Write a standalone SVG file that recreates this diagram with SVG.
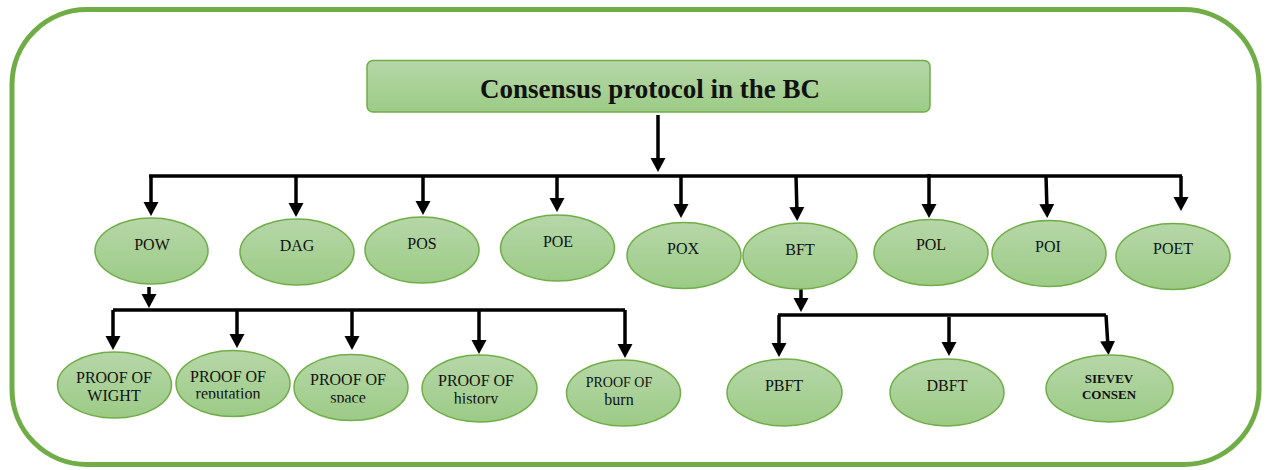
<svg xmlns="http://www.w3.org/2000/svg" width="1266" height="470" viewBox="0 0 1266 470">
<defs>
<linearGradient id="g" x1="0" y1="0" x2="0" y2="1">
<stop offset="0" stop-color="#b6d7a8"/>
<stop offset="1" stop-color="#9ccb86"/>
</linearGradient>
<marker id="ah" markerUnits="userSpaceOnUse" markerWidth="16" markerHeight="16" viewBox="0 0 16 16" refX="6" refY="8" orient="auto">
<path d="M0,0.5 L14,8 L0,15.5 z" fill="#000"/>
</marker>
<clipPath id="c1"><rect x="150" y="300" width="160" height="98.5"/></clipPath>
<clipPath id="c2"><rect x="280" y="300" width="140" height="102.5"/></clipPath>
<clipPath id="c3"><rect x="410" y="300" width="140" height="103.5"/></clipPath>
</defs>
<style>
.n{fill:url(#g);stroke:#70ad47;stroke-width:1.5}
.t{font-family:"Liberation Serif","Times New Roman",serif;font-size:16px;fill:#111;text-anchor:middle}
.b{font-weight:bold}
.c{stroke:#000;stroke-width:3.5;fill:none}
.a{stroke:#000;stroke-width:3.5;fill:none;marker-end:url(#ah)}
</style>
<rect x="12" y="9.5" width="1247" height="455" rx="75" ry="75" fill="#fff" stroke="#70ad47" stroke-width="5"/>

<g id="title">
<rect x="367" y="60.5" width="563" height="51.5" rx="6" class="n"/>
<text x="650" y="98" class="t b" style="font-size:27px">Consensus protocol in the BC</text>
</g>

<g id="connectors">
<line x1="658" y1="115" x2="658" y2="164" class="a"/>
<path d="M149,176 H1182" class="c"/>
<line x1="151" y1="176" x2="151" y2="208" class="a"/>
<line x1="296" y1="176" x2="296" y2="209" class="a"/>
<line x1="423" y1="176" x2="423" y2="207" class="a"/>
<line x1="557" y1="176" x2="557" y2="204" class="a"/>
<line x1="681" y1="176" x2="681" y2="210" class="a"/>
<line x1="796" y1="176" x2="797" y2="213" class="a"/>
<line x1="929" y1="174" x2="929" y2="210" class="a"/>
<line x1="1046" y1="176" x2="1047" y2="210" class="a"/>
<line x1="1181" y1="176" x2="1181" y2="203" class="a"/>

<line x1="149" y1="287" x2="149" y2="300" class="a"/>
<path d="M113,310 H625" class="c"/>
<line x1="113" y1="310" x2="113" y2="342" class="a"/>
<line x1="237" y1="310" x2="237" y2="340" class="a"/>
<line x1="352" y1="310" x2="352" y2="342" class="a"/>
<line x1="479" y1="310" x2="479" y2="346" class="a"/>
<line x1="625" y1="310" x2="625" y2="350" class="a"/>

<line x1="801" y1="289" x2="801" y2="304" class="a"/>
<path d="M778,315 H1106" class="c"/>
<line x1="779" y1="315" x2="779" y2="349" class="a"/>
<line x1="949" y1="317" x2="949" y2="348" class="a"/>
<line x1="1106" y1="315" x2="1108" y2="347" class="a"/>
</g>

<g id="pow"><ellipse cx="151.5" cy="251" rx="56.5" ry="33" class="n"/><text x="152" y="250" class="t">POW</text></g>
<g id="dag"><ellipse cx="297" cy="252" rx="57" ry="33" class="n"/><text x="297" y="251" class="t">DAG</text></g>
<g id="pos"><ellipse cx="422" cy="250" rx="57" ry="33" class="n"/><text x="422" y="249" class="t">POS</text></g>
<g id="poe"><ellipse cx="557.5" cy="248" rx="57" ry="33" class="n"/><text x="558" y="247" class="t">POE</text></g>
<g id="pox"><ellipse cx="684" cy="255.5" rx="57" ry="33" class="n"/><text x="683" y="254" class="t">POX</text></g>
<g id="bft"><ellipse cx="800" cy="256" rx="57" ry="33" class="n"/><text x="800" y="255" class="t">BFT</text></g>
<g id="pol"><ellipse cx="931" cy="252.5" rx="57" ry="33" class="n"/><text x="931" y="250" class="t">POL</text></g>
<g id="poi"><ellipse cx="1049" cy="253.5" rx="57" ry="33" class="n"/><text x="1048" y="252" class="t">POI</text></g>
<g id="poet"><ellipse cx="1173" cy="256.5" rx="57" ry="33" class="n"/><text x="1173" y="254" class="t">POET</text></g>

<g id="wight"><ellipse cx="114.5" cy="385" rx="57" ry="33" class="n"/><text x="114" y="383" class="t">PROOF OF</text><text x="114" y="401" class="t">WIGHT</text></g>
<g id="reputation"><ellipse cx="233" cy="383.5" rx="57" ry="33" class="n"/><text x="228" y="382" class="t">PROOF OF</text><text x="228" y="399" class="t" clip-path="url(#c1)">reputation</text></g>
<g id="space"><ellipse cx="351" cy="387.5" rx="57" ry="33" class="n"/><text x="348" y="385" class="t">PROOF OF</text><text x="348" y="403" class="t" clip-path="url(#c2)">space</text></g>
<g id="history"><ellipse cx="479.5" cy="388.5" rx="57.5" ry="33.5" class="n"/><text x="476" y="386" class="t">PROOF OF</text><text x="476" y="404" class="t" clip-path="url(#c3)">history</text></g>
<g id="burn"><ellipse cx="623.5" cy="393" rx="57" ry="33" class="n"/><text x="619" y="387" class="t" style="font-size:14px">PROOF OF</text><text x="619" y="405" class="t">burn</text></g>

<g id="pbft"><ellipse cx="784.5" cy="392.5" rx="57.5" ry="33.5" class="n"/><text x="784" y="391" class="t">PBFT</text></g>
<g id="dbft"><ellipse cx="947" cy="392.5" rx="57" ry="33.5" class="n"/><text x="947" y="391" class="t">DBFT</text></g>
<g id="sievev"><ellipse cx="1109.5" cy="388.5" rx="63.5" ry="33.5" class="n"/><text x="1109" y="383" class="t b" style="font-size:13px">SIEVEV</text><text x="1109" y="399" class="t b" style="font-size:13px">CONSEN</text></g>
</svg>
